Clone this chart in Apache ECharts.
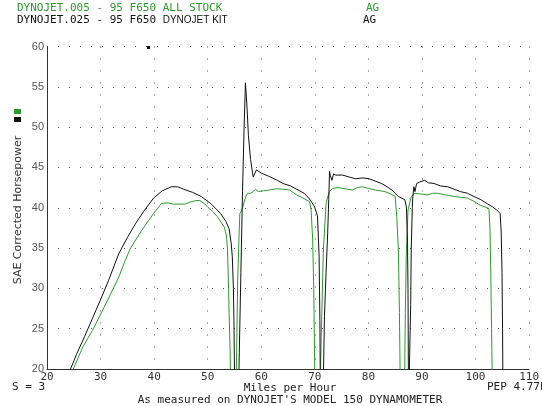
<!DOCTYPE html>
<html>
<head>
<meta charset="utf-8">
<script src="https://cdn.jsdelivr.net/npm/echarts@6/dist/echarts.min.js"></script>
<style>
html,body{margin:0;padding:0;background:#fff;}
#main{width:542px;height:406px;}
</style>
</head>
<body>
<div id="main"></div>
<script>
// ---- Data ----
const xTicks = [20, 30, 40, 50, 60, 70, 80, 90, 100, 110];
const yTicks = [20, 25, 30, 35, 40, 45, 50, 55, 60];

// DYNOJET.005 - 95 F650 ALL STOCK (green)
const stockMph = [24.7,24.9,26.7,28.5,30.1,31.8,33.4,34.5,35.6,37.7,39.9,41.4,42.6,43.5,44.5,45.8,46.9,48.0,48.5,49.2,50.0,51.0,51.8,53.1,53.5,53.7,53.9,54.0,54.2,54.3,
  55.2,55.4,55.6,55.9,56.0,56.4,57.0,57.4,58.0,58.5,58.9,59.5,60.4,61.5,62.9,64.0,65.3,66.6,67.8,69.0,69.3,69.6,69.8,69.95,70.05,
  70.9,71.2,71.6,72.1,72.7,73.3,74.3,75.2,76.2,77.0,78.0,78.9,80.0,81.3,82.2,83.1,84.2,85.0,85.3,85.6,85.8,86.0,
  86.7,86.9,87.1,87.4,88.0,88.7,89.8,91.1,92.0,92.9,94.4,96.0,97.2,98.5,99.7,100.9,101.8,102.5,102.7,102.85,103.0,103.2];
const stockHp = [18,20,22.75,24.8,26.9,29.2,31.4,33.3,35.0,37.2,39.3,40.55,40.6,40.45,40.45,40.45,40.75,40.9,40.9,40.6,40.1,39.5,38.9,37.6,36.5,34.75,30,26.9,22,15,
  15,22,31,37.5,39.3,39.7,41.2,41.8,41.8,42.0,42.3,42.0,42.1,42.2,42.35,42.3,42.2,41.6,41.2,40.75,39.8,36,30,22,15,
  15,24,34.75,40.55,42.0,42.4,42.5,42.4,42.3,42.2,42.5,42.6,42.4,42.2,42.1,42.0,41.7,41.4,38.9,34.75,27,15,
  15,27,34.75,39.7,41.4,41.8,41.7,41.6,41.8,41.8,41.6,41.4,41.3,41.2,40.8,40.3,40.1,39.9,37.5,32,25,15];

// DYNOJET.025 - 95 F650 DYNOJET KIT (black)
const kitMph = [24.2,24.4,25.5,27.0,28.5,30.0,31.5,33.4,35.0,36.5,38.0,39.9,41.5,43.2,44.4,45.5,47.2,48.8,50.6,52.4,53.4,54.0,54.4,54.6,54.8,54.9,55.0,55.1,
  55.7,55.9,56.2,56.5,56.8,57.05,57.3,57.6,58.0,58.5,59.1,60.0,61.6,63.0,64.1,65.5,66.6,68.0,69.0,69.9,70.5,70.8,70.95,71.05,
  71.5,71.8,72.1,72.4,72.6,72.75,72.9,73.2,73.5,73.9,75.2,76.5,77.6,79.0,80.1,81.3,82.5,83.5,84.4,85.6,86.8,87.1,87.3,87.4,87.5,
  87.8,87.9,88.0,88.2,88.3,88.5,88.7,89.0,89.6,90.5,91.2,92.3,93.5,94.8,96.0,97.2,98.5,99.7,101.0,102.2,103.2,104.0,104.6,104.8,104.95,105.05,105.15];
const kitHp = [18,20,21.8,24.0,26.3,28.6,31.0,34.3,36.3,38.0,39.5,41.2,42.1,42.6,42.6,42.3,41.9,41.4,40.5,39.3,38.3,37.4,35.5,33.9,30,26,20,15,
  15,22,32,42,50,55.5,53,49,46,43.8,44.7,44.3,43.85,43.4,43.0,42.7,42.3,41.8,41.1,40.2,39.0,34,26,15,
  15,26.5,32,36.8,41,44.5,44.0,43.4,44.2,44.05,44.05,43.8,43.6,43.7,43.6,43.3,43.0,42.6,42.2,41.4,41.0,40.1,36,30,15,
  15,28,34.75,40,41.4,42.6,42.0,43.0,43.2,43.4,43.1,43.0,42.7,42.6,42.3,42.0,41.8,41.4,41.0,40.5,40.1,39.7,39.3,37,32,25,15];

const zip = (a, b) => a.map((v, i) => [v, b[i]]);

const GREEN = '#2c9a2c';
const MONO = 'DejaVu Sans Mono';

const chart = echarts.init(document.getElementById('main'), null, {renderer: 'canvas'});
chart.setOption({
  animation: false,
  backgroundColor: '#ffffff',
  grid: {left: 47, right: 6, top: 46.5, bottom: 37, containLabel: false},
  xAxis: {
    type: 'value', min: xTicks[0], max: xTicks[xTicks.length - 1], interval: 10,
    axisLine: {show: true, onZero: false, lineStyle: {color: '#333', width: 1}},
    axisTick: {show: false},
    axisLabel: {color: '#333', fontFamily: MONO, fontSize: 11, margin: 3,
      formatter: v => xTicks.includes(v) ? String(v) : ''},
    splitLine: {show: true, lineStyle: {color: '#555', width: 1, type: [1, 11]}}
  },
  yAxis: {
    type: 'value', min: yTicks[0], max: yTicks[yTicks.length - 1], interval: 5,
    axisLine: {show: true, onZero: false, lineStyle: {color: '#333', width: 1}},
    axisTick: {show: false},
    axisLabel: {color: '#555', fontFamily: 'Liberation Sans', fontSize: 11, margin: 3,
      formatter: v => yTicks.includes(v) ? String(v) : ''},
    splitLine: {show: true, lineStyle: {color: '#555', width: 1, type: [1, 10]}}
  },
  series: [
    {type: 'line', name: 'stock', data: zip(stockMph, stockHp), showSymbol: false, symbol: 'none',
      lineStyle: {color: GREEN, width: 1}, clip: true, z: 3},
    {type: 'line', name: 'kit', data: zip(kitMph, kitHp), showSymbol: false, symbol: 'none',
      lineStyle: {color: '#111', width: 1}, clip: true, z: 4}
  ],
  graphic: [
    {type: 'text', left: 17, top: 3, style: {text: 'DYNOJET.005 - 95 F650 ALL STOCK', fill: GREEN, font: '11px ' + MONO}},
    {type: 'text', left: 17, top: 15, style: {
      text: '{a|DYNOJET.025 - 95 F650 }{b|DYNOJET KIT}',
      rich: {a: {fill: '#111', fontFamily: MONO, fontSize: 11}, b: {fill: '#111', fontFamily: 'Liberation Sans', fontSize: 10}}
    }},
    {type: 'text', left: 366, top: 3, style: {text: 'AG', fill: GREEN, font: '11px ' + MONO}},
    {type: 'text', left: 363, top: 15, style: {text: 'AG', fill: '#111', font: '11px ' + MONO}},
    {type: 'rect', shape: {x: 14, y: 109, width: 7, height: 5}, style: {fill: GREEN}},
    {type: 'rect', shape: {x: 14, y: 117, width: 7, height: 5}, style: {fill: '#111'}},
    {type: 'rect', shape: {x: 147, y: 46, width: 3, height: 3}, style: {fill: '#111'}},
    {type: 'text', x: 18, y: 210, rotation: Math.PI / 2, style: {
      text: 'SAE Corrected Horsepower', fill: '#333', font: '11px DejaVu Sans', textAlign: 'center', textVerticalAlign: 'middle'}},
    {type: 'text', left: 12, top: 382, style: {text: 'S = 3', fill: '#222', font: '11px ' + MONO}},
    {type: 'text', x: 290, y: 388, style: {text: 'Miles per Hour', fill: '#222', font: '11px ' + MONO, textAlign: 'center', textVerticalAlign: 'middle'}},
    {type: 'text', x: 290, y: 400, style: {text: "As measured on DYNOJET'S MODEL 150 DYNAMOMETER", fill: '#222', font: '11px ' + MONO, textAlign: 'center', textVerticalAlign: 'middle'}},
    {type: 'text', left: 487, top: 382, style: {text: 'PEP 4.77E', fill: '#222', font: '11px ' + MONO}}
  ]
});
</script>
</body>
</html>
